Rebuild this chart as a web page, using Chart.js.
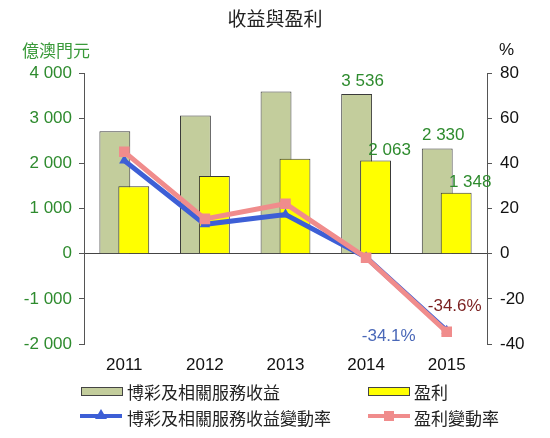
<!DOCTYPE html>
<html>
<head>
<meta charset="utf-8">
<script src="https://cdn.jsdelivr.net/npm/chart.js@4/dist/chart.umd.min.js"></script>
<style>
  body { margin: 0; background: #fff; }
  #wrap { position: relative; width: 550px; height: 438px; overflow: hidden; }
  #wrap canvas { position: absolute; left: 0; top: 0; }
  .txt { position: absolute; font-family: "Noto Sans CJK TC", "Noto Sans", sans-serif; line-height: 1; white-space: nowrap; }
  .box { position: absolute; width: 40px; height: 7px; border: 1px solid #444; }
  .ln { position: absolute; width: 42px; height: 4px; }
  .tri { position: absolute; width: 0; height: 0; border-left: 6px solid transparent; border-right: 6px solid transparent; border-bottom: 10px solid #3d5fd6; }
  .sq { position: absolute; width: 10px; height: 10px; background: #f08c8c; }
</style>
</head>
<body>
<div id="wrap">
  <canvas id="c" width="550" height="438"></canvas>
  <div class="txt" style="left:0;width:550px;text-align:center;top:8px;font-size:19px;color:#222;">收益與盈利</div>
  <div class="txt" style="left:22px;top:41px;font-size:17px;color:#3a9a3a;">億澳門元</div>
  <div class="txt" style="left:499px;top:41px;font-size:17px;color:#111;font-family:'Liberation Sans',Arial,sans-serif;">%</div>

  <div class="box" style="left:81px;top:387px;background:#c3cd9c;"></div>
  <div class="txt" style="left:127px;top:383px;font-size:17px;color:#222;">博彩及相關服務收益</div>
  <div class="box" style="left:368px;top:387px;background:#ffff00;"></div>
  <div class="txt" style="left:414px;top:383px;font-size:17px;color:#222;">盈利</div>

  <div class="ln" style="left:80px;top:414px;background:#3d5fd6;"></div>
  <div class="tri" style="left:95px;top:409px;"></div>
  <div class="txt" style="left:127px;top:409px;font-size:17px;color:#222;">博彩及相關服務收益變動率</div>
  <div class="ln" style="left:368px;top:414px;background:#f08c8c;"></div>
  <div class="sq" style="left:384px;top:411px;"></div>
  <div class="txt" style="left:414px;top:409px;font-size:17px;color:#222;">盈利變動率</div>
</div>
<script>
// data
const years = ['2011', '2012', '2013', '2014', '2015'];
const revenue = [2710, 3060, 3590, 3536, 2330];
const profit = [1490, 1720, 2100, 2063, 1348];
const revenueChange = [41.2, 13.0, 17.3, -1.6, -34.1];
const profitChange = [45.1, 15.4, 22.1, -1.8, -34.6];
const barLabelYears = ['2014', '2015'];
const lineLabelYears = ['2015'];

const numFont = '"Liberation Sans", Arial, sans-serif';

function spaced(v) {
    return String(v).replace(/\B(?=(\d{3})+(?!\d))/g, ' ');
}

// yellow bars sit on top of the green ones
const barOrder = {
    id: 'barOrder',
    beforeDatasetDraw(chart, args) {
        if (args.index === 1 && !chart.$yellowNow) return false;
    },
    afterDatasetDraw(chart, args) {
        if (args.index === 0) {
            chart.$yellowNow = true;
            chart.getDatasetMeta(1).controller.draw();
            chart.$yellowNow = false;
        }
    }
};

const valueLabels = {
    id: 'valueLabels',
    afterDatasetsDraw(chart) {
        const ctx = chart.ctx;
        ctx.save();
        ctx.font = '17px ' + numFont;
        ctx.textAlign = 'center';
        ctx.textBaseline = 'middle';
        years.forEach((yr, i) => {
            if (barLabelYears.includes(yr)) {
                let g = chart.getDatasetMeta(0).data[i];
                ctx.fillStyle = '#2e8b2e';
                ctx.fillText(spaced(revenue[i]), g.x + 6, g.y - 13);
                let p = chart.getDatasetMeta(1).data[i];
                ctx.fillText(spaced(profit[i]), p.x + 14, p.y - 10);
            }
            if (lineLabelYears.includes(yr)) {
                let b = chart.getDatasetMeta(2).data[i];
                ctx.fillStyle = '#4a68b8';
                ctx.fillText(revenueChange[i].toFixed(1) + '%', b.x - 58, b.y + 6);
                let r = chart.getDatasetMeta(3).data[i];
                ctx.fillStyle = '#7a1f1f';
                ctx.fillText(profitChange[i].toFixed(1) + '%', r.x + 8, r.y - 25);
            }
        });
        ctx.restore();
    }
};

const chart = new Chart(document.getElementById('c'), {
    type: 'bar',
    data: {
        labels: years,
        datasets: [{
            label: '博彩及相關服務收益',
            data: revenue,
            backgroundColor: '#c3cd9c',
            borderColor: '#3a3a3a',
            borderWidth: 1,
            categoryPercentage: 0.47,
            barPercentage: 1.63,
            yAxisID: 'y',
            order: 1
        }, {
            label: '盈利',
            data: profit,
            backgroundColor: '#ffff00',
            borderColor: '#3a3a3a',
            borderWidth: 1,
            categoryPercentage: 0.47,
            barPercentage: 1.63,
            yAxisID: 'y',
            order: 1
        }, {
            type: 'line',
            label: '博彩及相關服務收益變動率',
            data: revenueChange,
            borderColor: '#3d5fd6',
            backgroundColor: '#3d5fd6',
            borderWidth: 5,
            pointStyle: 'triangle',
            pointRadius: 6,
            pointBorderWidth: 0,
            tension: 0,
            yAxisID: 'y1',
            order: 0.5
        }, {
            type: 'line',
            label: '盈利變動率',
            data: profitChange,
            borderColor: '#f08c8c',
            backgroundColor: '#f08c8c',
            borderWidth: 5,
            pointStyle: 'rect',
            pointRadius: 7.5,
            pointBorderWidth: 0,
            tension: 0,
            yAxisID: 'y1',
            order: 0
        }]
    },
    options: {
        responsive: false,
        animation: false,
        devicePixelRatio: 1,
        layout: { padding: { top: 73, bottom: 64, left: 0, right: 0 } },
        plugins: {
            legend: { display: false },
            title: { display: false },
            tooltip: { enabled: false }
        },
        scales: {
            x: {
                grid: { display: false, drawTicks: false },
                border: { display: false },
                ticks: { color: '#111', padding: 11, font: { family: numFont, size: 17 } },
                afterFit(s) { s.height = 30; }
            },
            y: {
                position: 'left',
                min: -2000,
                max: 4000,
                ticks: {
                    stepSize: 1000,
                    color: '#2e8b2e',
                    padding: 7,
                    font: { family: numFont, size: 17 },
                    callback: v => spaced(v)
                },
                grid: {
                    color: c => (c.tick && c.tick.value === 0) ? '#444' : 'transparent',
                    tickColor: '#555',
                    tickLength: 5
                },
                border: { color: '#555' },
                afterFit(s) { s.width = 84; }
            },
            y1: {
                position: 'right',
                min: -40,
                max: 80,
                ticks: {
                    stepSize: 20,
                    color: '#111',
                    padding: 8,
                    font: { family: numFont, size: 17 }
                },
                grid: {
                    drawOnChartArea: false,
                    color: 'transparent',
                    tickColor: '#555',
                    tickLength: 5
                },
                border: { color: '#555' },
                afterFit(s) { s.width = 63; }
            }
        }
    },
    plugins: [barOrder, valueLabels]
});
</script>
</body>
</html>
